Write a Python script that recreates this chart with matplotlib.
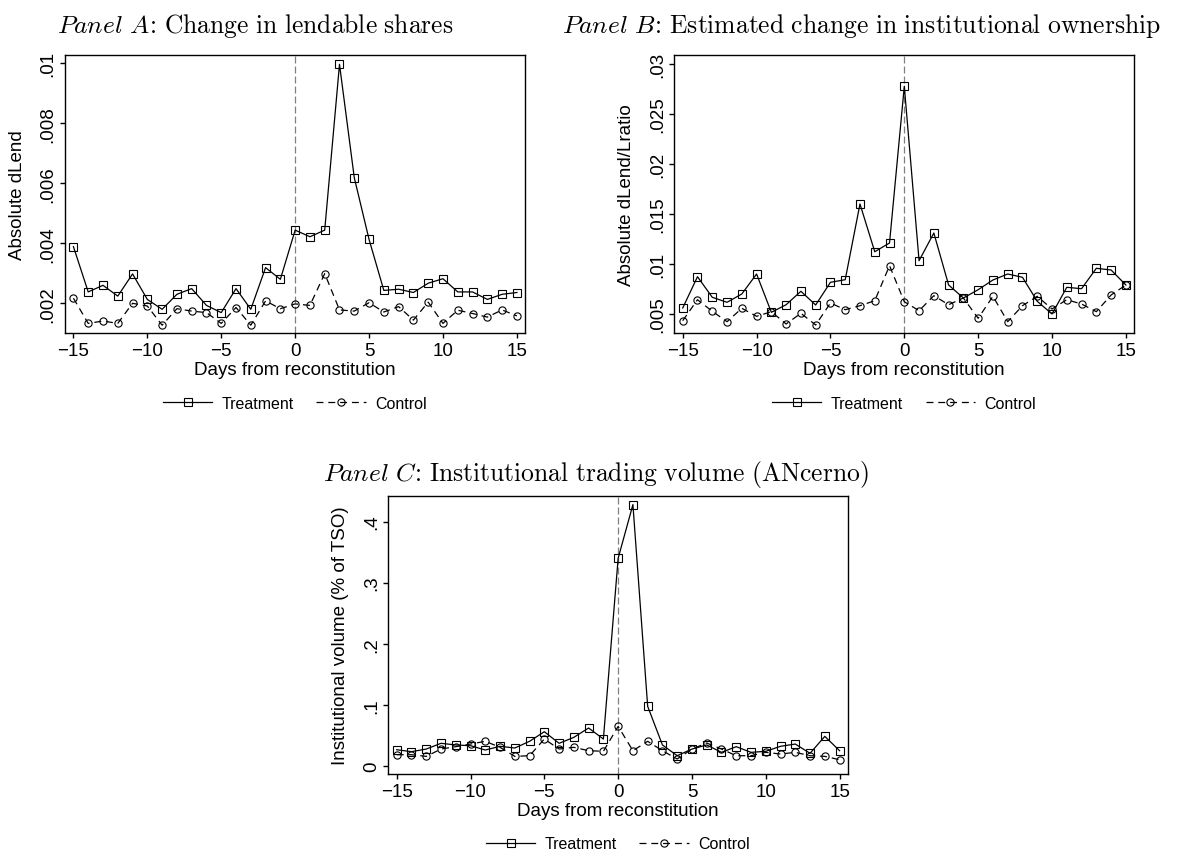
import matplotlib
matplotlib.use('Agg')
import matplotlib.pyplot as plt

days = list(range(-15, 16))

# Panel A: Absolute dLend
a_treat = [0.00389, 0.00238, 0.00260, 0.00224, 0.00298, 0.00213, 0.00180, 0.00230,
           0.00249, 0.00193, 0.00169, 0.00249, 0.00180, 0.00319, 0.00280, 0.00444,
           0.00422, 0.00444, 0.00997, 0.00619, 0.00413, 0.00243, 0.00247, 0.00236,
           0.00267, 0.00282, 0.00238, 0.00238, 0.00213, 0.00230, 0.00236]
a_ctrl = [0.00217, 0.00133, 0.00141, 0.00133, 0.00200, 0.00191, 0.00127, 0.00182,
          0.00174, 0.00169, 0.00133, 0.00186, 0.00127, 0.00208, 0.00182, 0.00198,
          0.00193, 0.00299, 0.00178, 0.00174, 0.00202, 0.00171, 0.00189, 0.00144,
          0.00204, 0.00133, 0.00177, 0.00166, 0.00154, 0.00178, 0.00158]

# Panel B: Absolute dLend/Lratio
b_treat = [0.00560, 0.00873, 0.00667, 0.00617, 0.00700, 0.00900, 0.00517, 0.00593,
           0.00727, 0.00590, 0.00817, 0.00843, 0.01600, 0.01123, 0.01210, 0.02777,
           0.01033, 0.01310, 0.00790, 0.00660, 0.00743, 0.00840, 0.00900, 0.00867,
           0.00627, 0.00500, 0.00767, 0.00753, 0.00957, 0.00940, 0.00790]
b_ctrl = [0.00433, 0.00643, 0.00527, 0.00423, 0.00557, 0.00477, 0.00523, 0.00400,
          0.00507, 0.00390, 0.00610, 0.00543, 0.00583, 0.00633, 0.00983, 0.00623,
          0.00533, 0.00683, 0.00593, 0.00660, 0.00457, 0.00677, 0.00423, 0.00583,
          0.00677, 0.00550, 0.00643, 0.00600, 0.00523, 0.00690, 0.00790]

# Panel C: Institutional volume (% of TSO)
c_treat = [0.0262, 0.0230, 0.0273, 0.0367, 0.0340, 0.0328, 0.0257, 0.0318,
           0.0290, 0.0400, 0.0557, 0.0367, 0.0465, 0.0618, 0.0437, 0.3400,
           0.4280, 0.0973, 0.0340, 0.0164, 0.0273, 0.0340, 0.0219, 0.0312,
           0.0219, 0.0236, 0.0318, 0.0355, 0.0203, 0.0481, 0.0246]
c_ctrl = [0.0180, 0.0180, 0.0153, 0.0273, 0.0312, 0.0355, 0.0400, 0.0301,
          0.0153, 0.0164, 0.0437, 0.0273, 0.0301, 0.0246, 0.0236, 0.0645,
          0.0246, 0.0400, 0.0246, 0.0110, 0.0273, 0.0372, 0.0273, 0.0164,
          0.0164, 0.0219, 0.0191, 0.0219, 0.0164, 0.0153, 0.0098]

xticks = [-15, -10, -5, 0, 5, 10, 15]
a_yticks = [0.002, 0.004, 0.006, 0.008, 0.010]
a_yticklabels = ['.002', '.004', '.006', '.008', '.01']
b_yticks = [0.005, 0.010, 0.015, 0.020, 0.025, 0.030]
b_yticklabels = ['.005', '.01', '.015', '.02', '.025', '.03']
c_yticks = [0.0, 0.1, 0.2, 0.3, 0.4]
c_yticklabels = ['0', '.1', '.2', '.3', '.4']

plt.rcParams['font.family'] = ['Liberation Sans', 'DejaVu Sans']
plt.rcParams['mathtext.fontset'] = 'cm'
plt.rcParams['lines.scale_dashes'] = False

W, H = 1184, 854
fig = plt.figure(figsize=(W / 100, H / 100), dpi=100)

TICK_FS = 13.5
LEG_FS = 11.5
TITLE_FS = 18.4


def rect(left, top, right, bottom):
    return [left / W, 1 - bottom / H, (right - left) / W, (bottom - top) / H]


def panel(r, treat, ctrl, yticks, yticklabels, ylim, ylabel, title, tx, ty):
    ax = fig.add_axes(r)
    ax.axvline(0, color='#808080', lw=0.9, ls=(0, (5, 2.2)), zorder=1)
    ax.plot(days, treat, color='black', lw=0.9, marker='s', ms=5.6,
            mfc='none', mec='black', mew=0.8, label='Treatment', zorder=3)
    ax.plot(days, ctrl, color='black', lw=0.9, ls=(0, (5, 3.5)), marker='o', ms=5.2,
            mfc='none', mec='black', mew=0.8, label='Control', zorder=3)
    ax.set_xlim(-15.57, 15.55)
    ax.set_ylim(*ylim)
    ax.set_xticks(xticks)
    ax.set_yticks(yticks)
    ax.set_yticklabels(yticklabels, rotation=90, va='center')
    for s in ax.spines.values():
        s.set_linewidth(1.0)
    ax.tick_params(axis='both', direction='out', length=3.6, width=1.0,
                   labelsize=TICK_FS, colors='black')
    ax.tick_params(axis='x', pad=3)
    ax.tick_params(axis='y', pad=2.5)
    ax.set_xlabel('Days from reconstitution', fontsize=TICK_FS, va='center')
    ax.xaxis.set_label_coords(0.5, -0.13)
    ax.set_ylabel(ylabel, fontsize=TICK_FS, va='center')
    ax.yaxis.set_label_coords(-0.104, 0.5)
    ax.legend(loc='center', bbox_to_anchor=(0.5, -0.252), ncol=2, frameon=False,
              fontsize=LEG_FS, numpoints=1, handlelength=3.1, handletextpad=0.6,
              columnspacing=1.4, borderaxespad=0)
    fig.text(tx / W, 1 - ty / H, title, fontsize=TITLE_FS, ha='center', va='baseline')
    return ax


panel(rect(65, 56, 525, 334.3), a_treat, a_ctrl, a_yticks, a_yticklabels,
      (0.0010, 0.01028), 'Absolute dLend',
      r'$\mathit{Panel\ A}\!:\,\mathrm{Change\ in\ lendable\ shares}$', 255, 33)
panel(rect(674.3, 56, 1134, 334.3), b_treat, b_ctrl, b_yticks, b_yticklabels,
      (0.00307, 0.0309), 'Absolute dLend/Lratio',
      r'$\mathit{Panel\ B}\!:\,\mathrm{Estimated\ change\ in\ institutional\ ownership}$', 861, 33)
panel(rect(388.3, 497.3, 847.7, 775), c_treat, c_ctrl, c_yticks, c_yticklabels,
      (-0.0136, 0.4416), 'Institutional volume (% of TSO)',
      r'$\mathit{Panel\ C}\!:\,\mathrm{Institutional\ trading\ volume\ (ANcerno)}$', 596, 481)

fig.savefig('out.png', dpi=100)
